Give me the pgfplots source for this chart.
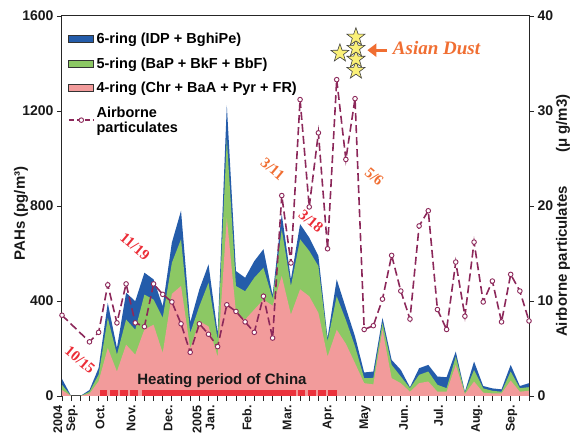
\documentclass[border=0pt]{standalone}
\usepackage{fontspec}
\setmainfont{Liberation Sans}
\newfontfamily\seriff{Liberation Serif}
\usepackage{pgfplots}
\pgfplotsset{compat=1.18}
\usepackage{pgfplotstable}
\usetikzlibrary{arrows.meta}

\definecolor{c6}{RGB}{36,92,170}
\definecolor{c5}{RGB}{140,200,100}
\definecolor{c4}{RGB}{242,155,155}
\definecolor{heat}{RGB}{235,50,60}
\definecolor{airc}{RGB}{140,40,90}
\definecolor{orng}{RGB}{240,110,50}
\definecolor{redt}{RGB}{235,45,55}
\definecolor{staryel}{RGB}{250,240,120}

\pgfdeclareplotmark{fstar}{%
\pgfpathmoveto{\pgfpointpolar{90}{\pgfplotmarksize}}%
\pgfpathlineto{\pgfpointpolar{126}{0.4\pgfplotmarksize}}%
\pgfpathlineto{\pgfpointpolar{162}{\pgfplotmarksize}}%
\pgfpathlineto{\pgfpointpolar{198}{0.4\pgfplotmarksize}}%
\pgfpathlineto{\pgfpointpolar{234}{\pgfplotmarksize}}%
\pgfpathlineto{\pgfpointpolar{270}{0.4\pgfplotmarksize}}%
\pgfpathlineto{\pgfpointpolar{306}{\pgfplotmarksize}}%
\pgfpathlineto{\pgfpointpolar{342}{0.4\pgfplotmarksize}}%
\pgfpathlineto{\pgfpointpolar{18}{\pgfplotmarksize}}%
\pgfpathlineto{\pgfpointpolar{54}{0.4\pgfplotmarksize}}%
\pgfpathclose
\pgfusepathqfillstroke}

\pgfplotstableread{
i pink green total
0 25 47 72
1 0 0 0
2 0 0 0
3 10 18 25
4 62 90 118
5 202 329 392
6 103 174 202
7 216 322 435
8 174 279 399
9 280 427 519
10 300 406 491
11 181 329 378
12 430 561 646
13 463 660 780
14 200 265 310
15 315 378 449
16 293 477 554
17 165 237 265
18 750 1083 1224
19 351 463 526
20 322 441 498
21 364 498 568
22 406 540 618
23 380 410 425
24 505 702 766
25 343 463 491
26 449 660 724
27 420 611 667
28 350 547 590
29 166 230 244
30 279 420 491
31 220 320 370
32 138 209 251
33 54 75 99
34 49 76 103
35 279 308 329
36 75 131 152
37 54 82 110
38 18 33 37
39 54 89 117
40 61 103 131
41 18 47 82
42 18 33 79
43 131 166 187
44 8 14 18
45 61 110 145
46 14 32 42
47 11 22 32
48 11 18 28
49 65 103 131
50 18 33 42
51 22 37 54
}\pah

\pgfplotstableread{
i air
0 8.5
3 5.7
4 6.7
5 11.7
6 7.7
7 11.8
8 7.7
9 7.3
10 11.8
11 10.7
12 9.9
13 7.6
14 4.6
15 7.6
16 6.5
17 5.2
18 9.6
19 8.9
20 7.8
21 6.7
22 10.5
23 6.1
24 21.1
25 14.0
26 31.2
27 19.9
28 27.7
29 15.5
30 33.3
31 24.9
32 31.3
33 7.0
34 7.4
35 10.2
36 14.8
37 11.05
38 8.1
39 17.9
40 19.5
41 9.1
42 7.0
43 14.1
44 8.4
45 16.2
46 9.9
47 12.1
48 7.8
49 12.8
50 11.05
51 7.9
}\air

\pgfplotsset{
  arealeg/.style={legend image code/.code={\draw[##1, draw=black!80, line width=0.6pt] (0pt,-3.5pt) rectangle (25pt,3.5pt);}},
  airleg/.style={legend image code/.code={\draw[mark repeat=2, mark phase=2, ##1] plot coordinates {(0pt,0pt) (12.5pt,0pt) (25pt,0pt)};}},
}
\tikzset{
  airstyle/.style={color=airc, line width=1.6pt, dash pattern=on 8pt off 4pt,
    mark=*, mark size=2.3pt, mark options={solid, fill=white, draw=airc, line width=0.9pt}},
  mlab/.style={rotate=90, anchor=east, inner sep=0pt, align=right,
    font=\fontsize{12.5}{13}\selectfont\bfseries, text=black!90},
  datel/.style={font=\seriff\bfseries\fontsize{15}{15}\selectfont, rotate=-40}
}

\begin{document}
\begin{tikzpicture}
\begin{axis}[
  scale only axis, width=467pt, height=380pt,
  xmin=0, xmax=51, ymin=0, ymax=1600,
  ytick={0,400,800,1200,1600},
  xtick={0,...,51}, xticklabels={},
  xtick pos=left, ytick pos=left, tick align=outside,
  major tick length=5pt,
  tick style={black!85, line width=0.9pt},
  axis line style={black!85, line width=1pt},
  ticklabel style={font=\fontsize{14}{16}\selectfont\bfseries, text=black!90},
  /pgf/number format/1000 sep={},
  /pgf/number format/assume math mode=true,
  clip mode=individual,
  legend style={draw=none, fill=none, at={(0.006,0.966)}, anchor=north west,
    font=\fontsize{14.5}{15}\selectfont\bfseries, row sep=8.5pt,
    cells={anchor=west, align=left}},
  legend cell align=left,
]
\coordinate (O) at (rel axis cs:0,0);
\addplot[fill=c6, draw=none, arealeg] table[x=i,y=total]{\pah} \closedcycle;
\addlegendentry{6-ring (IDP + BghiPe)}
\addplot[fill=c5, draw=none, arealeg] table[x=i,y=green]{\pah} \closedcycle;
\addlegendentry{5-ring (BaP + BkF + BbF)}
\addplot[fill=c4, draw=none, arealeg] table[x=i,y=pink]{\pah} \closedcycle;
\addlegendentry{4-ring (Chr + BaA + Pyr + FR)}
\addlegendimage{color=airc, line width=1.6pt, dash pattern=on 5pt off 3pt,
    mark=*, mark size=2.3pt, mark options={solid, fill=white, draw=airc, line width=0.9pt}, airleg}
\addlegendentry{Airborne\\particulates}

% heating period
\fill[heat] (axis cs:4.15,0) rectangle (axis cs:4.88,25);
\fill[heat] (axis cs:5.24,0) rectangle (axis cs:6.08,25);
\fill[heat] (axis cs:6.33,0) rectangle (axis cs:7.17,25);
\fill[heat] (axis cs:7.42,0) rectangle (axis cs:8.26,25);
\fill[heat] (axis cs:8.77,0) rectangle (axis cs:25.5,25);
\fill[heat] (axis cs:25.8,0) rectangle (axis cs:26.55,25);
\fill[heat] (axis cs:26.9,0) rectangle (axis cs:27.7,25);
\fill[heat] (axis cs:27.98,0) rectangle (axis cs:28.8,25);
\fill[heat] (axis cs:29.07,0) rectangle (axis cs:29.98,25);
\node[font=\fontsize{15}{16}\selectfont\bfseries, text=black!90] at (axis cs:17.47,64) {Heating period of China};

% stars
\addplot[only marks, forget plot, mark=fstar, mark size=9.5pt,
  mark options={fill=staryel, draw=black!75, line width=0.6pt}]
  coordinates {(30.35,1443) (32.1,1371) (32.1,1418) (32.1,1464) (32.1,1511)};
\draw[orng, line width=3pt, -{Triangle[length=9pt,width=13pt]}] (axis cs:35.5,1456) -- (axis cs:33.35,1456);
\node[font=\seriff\bfseries\itshape\fontsize{19}{20}\selectfont, text=orng] at (axis cs:40.9,1464) {Asian Dust};

% dates
\node[datel, text=redt] at (axis cs:1.97,152) {10/15};
\node[datel, text=redt] at (axis cs:7.97,630) {11/19};
\node[datel, text=orng] at (axis cs:23.0,956) {3/11};
\node[datel, text=redt] at (axis cs:27.2,736) {3/18};
\node[datel, text=orng] at (axis cs:34.1,923) {5/6};

% month labels
\node[mlab] at ([yshift=-9pt]axis cs:0.38,0) {2004\\Sep.};
\node[mlab] at ([yshift=-9pt]axis cs:4.15,0) {Oct.};
\node[mlab] at ([yshift=-9pt]axis cs:7.55,0) {Nov.};
\node[mlab] at ([yshift=-9pt]axis cs:11.6,0) {Dec.};
\node[mlab] at ([yshift=-9pt]axis cs:15.45,0) {2005\\Jan.};
\node[mlab] at ([yshift=-9pt]axis cs:20.2,0) {Feb.};
\node[mlab] at ([yshift=-9pt]axis cs:24.6,0) {Mar.};
\node[mlab] at ([yshift=-9pt]axis cs:29.1,0) {Apr.};
\node[mlab] at ([yshift=-9pt]axis cs:33.1,0) {May};
\node[mlab] at ([yshift=-9pt]axis cs:37.3,0) {Jun.};
\node[mlab] at ([yshift=-9pt]axis cs:41.1,0) {Jul.};
\node[mlab] at ([yshift=-9pt]axis cs:45.3,0) {Aug.};
\node[mlab] at ([yshift=-9pt]axis cs:49.1,0) {Sep.};

% axis labels
\node[rotate=90, font=\fontsize{15}{16}\selectfont\bfseries, text=black!90] at ([xshift=-41pt]rel axis cs:0,0.48) {PAHs (pg/m³)};
\node[rotate=90, font=\fontsize{15}{16}\selectfont\bfseries, text=black!90] at ([xshift=34pt]rel axis cs:1,0.354) {Airborne particulates};
\node[rotate=90, font=\fontsize{15}{16}\selectfont\bfseries, text=black!90] at ([xshift=34pt]rel axis cs:1,0.717) {(μ g/m3)};
\end{axis}

\begin{axis}[
  scale only axis, width=467pt, height=380pt,
  xmin=0, xmax=51, ymin=0, ymax=40,
  axis x line=none, axis y line*=right,
  ytick={0,10,20,30,40}, tick align=outside,
  major tick length=5pt,
  tick style={black!85, line width=0.9pt},
  axis line style={black!85, line width=1pt},
  ticklabel style={font=\fontsize{14}{16}\selectfont\bfseries, text=black!90},
  /pgf/number format/assume math mode=true,
  clip=false,
]
\addplot[airstyle] table[x=i,y=air]{\air};
\end{axis}
\pgfresetboundingbox
\path (O) ++(-62pt,-50pt) rectangle ++(570pt,446pt);
\end{tikzpicture}
\end{document}
